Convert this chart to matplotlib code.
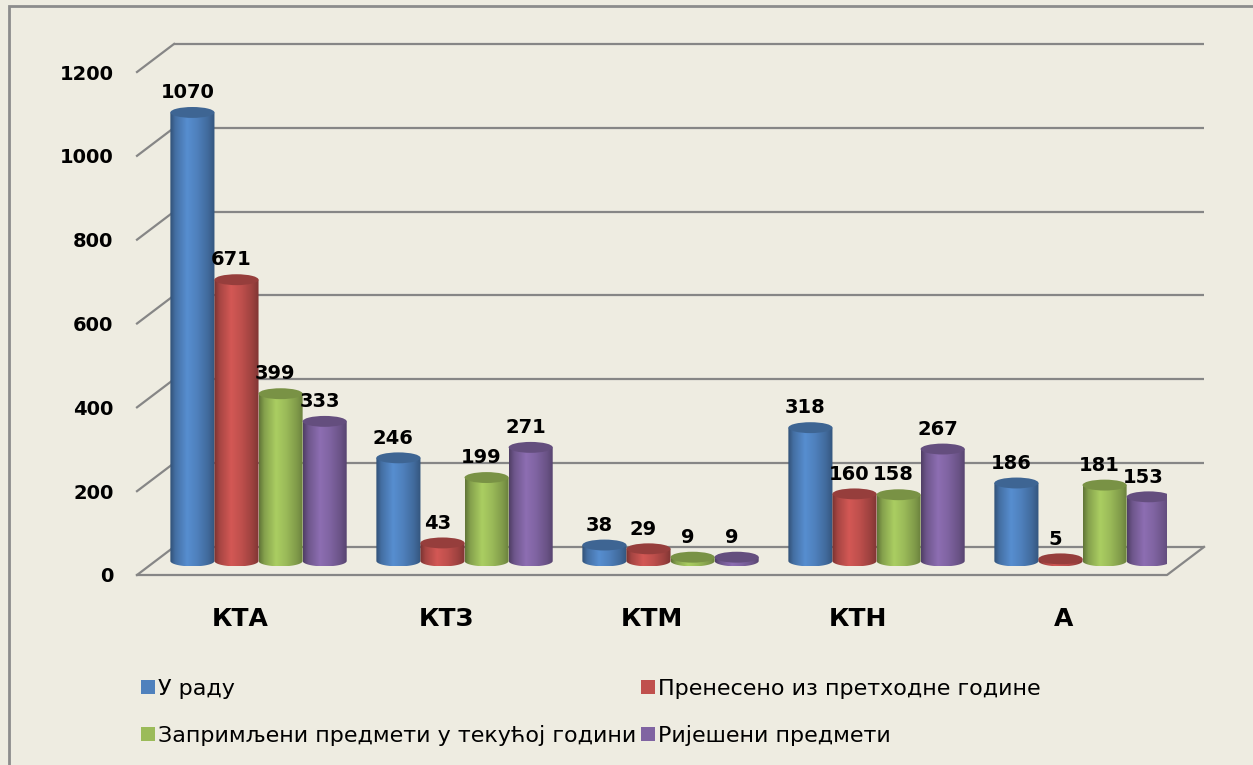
import numpy as np
import matplotlib
matplotlib.use('Agg')
import matplotlib.pyplot as plt
from matplotlib.colors import LinearSegmentedColormap, to_rgb
from matplotlib.patches import Ellipse, PathPatch, Patch, Rectangle
from matplotlib.path import Path

# Data
categories = ['КТА', 'КТЗ', 'КТМ', 'КТН', 'А']
series_names = ['У раду', 'Пренесено из претходне године',
                'Запримљени предмети у текућој години', 'Ријешени предмети']
u_radu = [1070, 246, 38, 318, 186]
preneseno = [671, 43, 29, 160, 5]
zaprimljeni = [399, 199, 9, 158, 181]
rijeseni = [333, 271, 9, 267, 153]
series_colors = ['#4F81BD', '#C0504D', '#9BBB59', '#8064A2']
y_ticks = [0, 200, 400, 600, 800, 1000, 1200]

BG = '#EEECE1'
GRID = '#868686'
W, H = 1253, 765

# fake 3D geometry (data units)
DX, DY = 0.18, 67        # depth offset of the back wall
BW = 0.214               # cylinder width
EH = 26                  # ellipse height in value units

plt.rcParams['font.family'] = 'DejaVu Sans'

fig = plt.figure(figsize=(W / 100, H / 100), dpi=100, facecolor=BG)
ax = fig.add_axes([137 / W, 190 / H, 1030 / W, 503 / H])
ax.set_facecolor('none')


def shade_cmap(color):
    r = np.array(to_rgb(color))
    stops = [(0, .62), (.12, .86), (.38, 1.1), (.6, 1.0), (.85, .82), (1, .66)]
    return LinearSegmentedColormap.from_list(
        'cyl', [(t, tuple(np.clip(r * f, 0, 1))) for t, f in stops])


def cylinder(xc, v, color, z):
    x0, x1 = xc - BW / 2, xc + BW / 2
    yb = DY / 2
    yt = yb + v
    t = np.linspace(np.pi, 2 * np.pi, 60)
    verts = [(x0, yt)] + list(zip(xc + BW / 2 * np.cos(t), yb + EH / 2 * np.sin(t))) + [(x1, yt), (x0, yt)]
    codes = [Path.MOVETO] + [Path.LINETO] * (len(verts) - 2) + [Path.CLOSEPOLY]
    pp = PathPatch(Path(verts, codes), fc='none', ec='none', transform=ax.transData)
    ax.add_patch(pp)
    grad = np.linspace(0, 1, 256)[None, :]
    im = ax.imshow(grad, extent=(x0, x1, yb - EH / 2, yt), aspect='auto',
                   cmap=shade_cmap(color), zorder=z, interpolation='bilinear')
    im.set_clip_path(pp)
    top = np.clip(np.array(to_rgb(color)) * 0.78, 0, 1)
    ax.add_patch(Ellipse((xc, yt), BW, EH, fc=top, ec='none', zorder=z + 0.001))
    return yt + EH / 2


# back wall gridlines + side diagonals
for v in y_ticks:
    ax.plot([-0.5 + DX, 4.5 + DX], [v + DY, v + DY], color=GRID, lw=1.6,
            clip_on=False, zorder=1, solid_capstyle='butt')
    ax.plot([-0.5, -0.5 + DX], [v, v + DY], color=GRID, lw=1.6,
            clip_on=False, zorder=1)
# floor
ax.plot([-0.5, 4.5, 4.5 + DX], [0, 0, DY], color=GRID, lw=1.6, clip_on=False, zorder=1)

series = [u_radu, preneseno, zaprimljeni, rijeseni]
z = 3
for i in range(len(categories)):
    for j, (vals, col) in enumerate(zip(series, series_colors)):
        xc = i + DX / 2 + (j - 1.5) * BW
        ytop = cylinder(xc, vals[i], col, z)
        z += 0.01
        ax.text(xc - 0.025, ytop + 21, f'{vals[i]}', ha='center', va='baseline',
                fontsize=14, fontweight='bold', zorder=10)

ax.set_xlim(-0.5, 4.5)
ax.set_ylim(0, 1200)
ax.set_yticks(y_ticks)
ax.set_yticklabels([str(v) for v in y_ticks], fontsize=14, fontweight='bold')
ax.set_xticks(range(len(categories)))
ax.set_xticklabels(categories, fontsize=18, fontweight='bold')
ax.tick_params(axis='y', length=0, pad=17)
ax.tick_params(axis='x', length=0, pad=23)
for s in ax.spines.values():
    s.set_visible(False)

handles = [Patch(fc=c, ec='none') for c in series_colors]
order = [0, 2, 1, 3]
fig.legend([handles[k] for k in order], [series_names[k] for k in order],
           loc='upper left', bbox_to_anchor=(141 / W, (H - 679) / H), ncol=2,
           frameon=False, fontsize=16, handlelength=0.62, handleheight=0.62,
           handletextpad=0.15, columnspacing=0.2, labelspacing=1.15,
           borderpad=0, borderaxespad=0)

# chart frame
fig.add_artist(Rectangle((9 / W, -0.05), 1.1, (H - 6) / H + 0.05, transform=fig.transFigure,
                         fill=False, ec='#8C8C8C', lw=2))

fig.savefig('out.png', dpi=100, facecolor=fig.get_facecolor())
